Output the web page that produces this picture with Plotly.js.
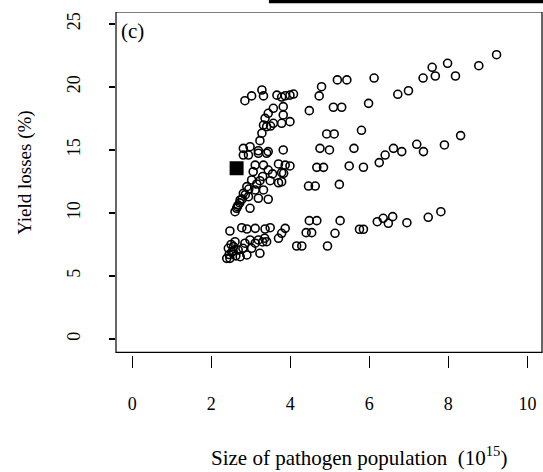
<!DOCTYPE html>
<html>
<head>
<meta charset="utf-8">
<script src="https://cdn.plot.ly/plotly-3.0.1.min.js"></script>
<style>html,body{margin:0;padding:0;background:#fff;}#chart{width:543px;height:472px;}</style>
</head>
<body>
<div id="chart"></div>
<script>
// Size of pathogen population (10^15) and yield losses (%)
const popSize = [
  // upper band, right part
  9.22, 8.77, 7.98, 7.59, 7.67, 8.18, 7.36, 6.99, 6.72, 6.12, 5.43, 5.19, 5.98, 5.30, 5.09, 5.80, 4.92, 5.11, 4.79, 4.73, 4.48, 4.08,
  // middle band, right part
  8.31, 7.90, 7.20, 7.37, 6.61, 6.82, 6.40, 6.25, 5.61, 4.75, 4.99, 3.82, 4.67, 4.84, 5.49, 5.85, 3.99, 3.87, 3.83, 3.78, 4.46, 4.63, 5.24,
  // lower band, right part
  4.48, 4.67, 5.26, 3.87, 3.78, 4.40, 4.54, 5.13, 5.75, 5.85, 4.16, 4.29, 4.94, 6.20, 6.35, 6.48, 6.59, 6.95, 7.49, 7.81,
  // upper cluster, left
  2.85, 3.02, 3.28, 3.32, 3.66, 3.78, 3.87, 3.99, 3.82, 3.57, 3.44, 3.36, 3.82, 3.32, 3.57, 3.40, 3.78, 3.99, 3.28, 3.23, 2.81, 2.98, 3.19, 3.44, 3.50,
  // middle cluster, left
  2.81, 2.94, 3.19, 3.40, 3.11, 3.32, 3.70, 3.06, 3.44, 3.78, 3.02, 3.23, 3.49, 3.70, 2.90, 3.11, 3.32, 2.81, 2.94, 3.19, 3.44, 2.73, 2.68, 2.64, 2.60, 2.98,
  2.66, 2.72, 2.78, 2.86, 2.95, 3.15, 3.30, 3.55,
  // lower cluster, left
  2.47, 2.77, 2.90, 3.11, 3.36, 3.49, 3.70, 3.40, 3.19, 2.98, 2.85, 2.60, 2.43, 2.56, 2.68, 2.90, 2.73, 3.23, 2.39, 2.47, 3.11, 3.02,
  2.45, 2.52, 2.55, 2.62, 2.80, 2.50, 3.30, 3.35
];
const yieldLoss = [
  22.56, 21.69, 21.88, 21.56, 20.87, 20.87, 20.71, 19.70, 19.42, 20.71, 20.56, 20.56, 18.70, 18.39, 18.39, 16.56, 16.27, 16.27, 20.02, 19.29, 18.12, 19.44,
  16.14, 15.40, 15.45, 14.87, 15.13, 14.87, 14.60, 14.00, 15.13, 15.13, 15.00, 15.00, 13.62, 13.62, 13.73, 13.63, 13.73, 13.80, 13.15, 12.48, 12.14, 12.14, 12.27,
  9.39, 9.39, 9.39, 8.78, 8.39, 8.44, 8.44, 8.39, 8.71, 8.71, 7.38, 7.38, 7.38, 9.31, 9.58, 9.18, 9.71, 9.23, 9.66, 10.10,
  18.91, 19.29, 19.76, 19.29, 19.35, 19.20, 19.30, 19.35, 18.44, 18.31, 17.91, 17.51, 17.78, 16.98, 17.12, 16.85, 17.12, 17.25, 16.33, 15.74, 15.13, 15.26, 14.94, 14.87, 16.90,
  14.60, 14.60, 14.74, 14.74, 13.80, 13.80, 13.89, 13.28, 13.41, 13.20, 12.62, 12.56, 12.56, 12.40, 12.09, 11.83, 11.83, 11.56, 11.29, 11.17, 11.09, 11.03, 10.63, 10.37, 10.10, 10.37,
  10.50, 10.80, 11.10, 11.45, 11.90, 12.30, 12.90, 13.10,
  8.57, 8.83, 8.73, 8.78, 8.73, 8.83, 7.99, 7.72, 7.86, 7.86, 7.60, 7.72, 7.20, 7.33, 7.06, 6.67, 6.53, 6.80, 6.40, 6.40, 7.60, 7.20,
  6.70, 6.90, 7.00, 6.60, 7.20, 7.50, 7.70, 8.00
];
// highlighted (filled square) point
const markX = [2.64];
const markY = [13.55];

const xTicks = [0, 2, 4, 6, 8, 10];
const yTicks = [0, 5, 10, 15, 20, 25];

const serif = "Liberation Serif, Times New Roman, serif";

const traces = [
  {
    x: popSize, y: yieldLoss, type: 'scatter', mode: 'markers',
    marker: {symbol: 'circle-open', size: 8, color: '#000', line: {width: 1.6, color: '#000'}},
    hoverinfo: 'skip', showlegend: false, cliponaxis: false
  },
  {
    x: markX, y: markY, type: 'scatter', mode: 'markers',
    marker: {symbol: 'square', size: 14, color: '#000'},
    hoverinfo: 'skip', showlegend: false
  }
];

const layout = {
  width: 543, height: 472,
  margin: {l: 116, r: 1, t: 12, b: 117},
  paper_bgcolor: '#fff', plot_bgcolor: '#fff',
  font: {family: serif, size: 16, color: '#000'},
  showlegend: false,
  xaxis: {
    range: [-0.413, 10.37], tickvals: xTicks, ticktext: xTicks.map(String),
    ticks: 'outside', ticklen: 12, tickwidth: 1.2, tickcolor: '#000',
    showline: false, zeroline: false, showgrid: false,
    ticklabelstandoff: 20,
    tickfont: {family: serif, size: 18, color: '#000'}
  },
  yaxis: {
    range: [-1.27, 25.95], tickvals: yTicks, ticktext: yTicks.map(String),
    ticks: 'outside', ticklen: 6, tickwidth: 1.2, tickcolor: '#000',
    showline: false, zeroline: false, showgrid: false,
    tickangle: -90, ticklabelstandoff: 22,
    tickfont: {family: serif, size: 18, color: '#000'}
  },
  shapes: [
    {type: 'rect', xref: 'paper', yref: 'y', x0: 0, x1: 1, y0: -1.06, y1: 25.95,
     line: {color: '#000', width: 1.2}, fillcolor: 'rgba(0,0,0,0)', layer: 'above'},
    {type: 'rect', xref: 'paper', yref: 'paper', x0: 0.359, x1: 1.01, y0: 1.0253, y1: 1.04,
     line: {width: 0}, fillcolor: '#000'}
  ],
  annotations: [
    {text: '(c)', xref: 'paper', yref: 'paper', x: 0.008, y: 0.944, xanchor: 'left', yanchor: 'middle',
     showarrow: false, font: {family: serif, size: 21, color: '#000'}},
    {text: 'Size of pathogen population  (10<sup>15</sup>)', xref: 'paper', yref: 'paper', x: 0.570, y: -0.297,
     xanchor: 'center', yanchor: 'middle', showarrow: false, font: {family: serif, size: 21, color: '#000'}},
    {text: 'Yield losses (%)', xref: 'paper', yref: 'paper', x: -0.2136, y: 0.531, textangle: -90,
     xanchor: 'center', yanchor: 'middle', showarrow: false, font: {family: serif, size: 19, color: '#000'}}
  ]
};

Plotly.newPlot('chart', traces, layout, {staticPlot: true, displayModeBar: false});
</script>
</body>
</html>
